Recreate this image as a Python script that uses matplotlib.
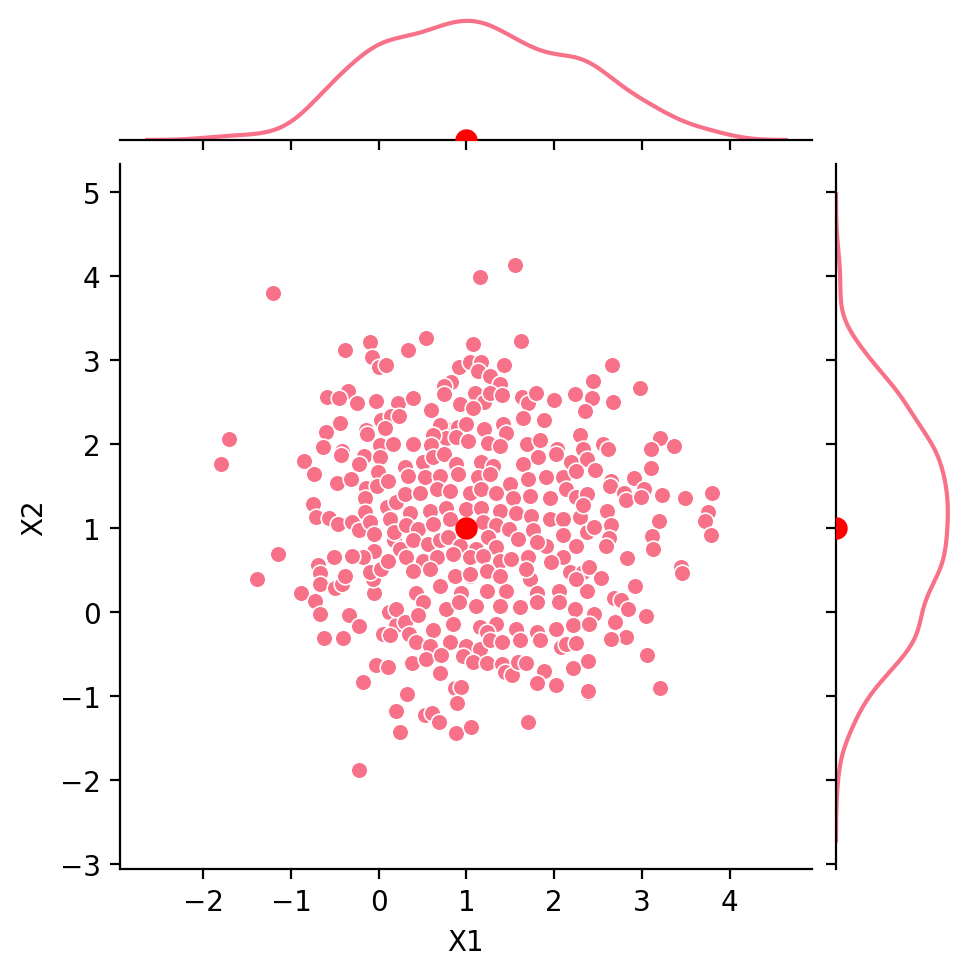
import matplotlib
matplotlib.use("Agg")
import matplotlib.pyplot as plt
import seaborn as sns
import numpy as np

# points (X1, X2)
x1 = [
    -1.205, -1.71, -0.38, -0.10, 0.33, -0.08, 0.0, 0.08, -0.585, -0.345, -0.45, -0.25, -0.03, 0.22, 0.39,
    -0.44, -0.60, 0.03, 0.14, 0.23, 0.07, -0.15, -0.13, -0.635, -0.42, 0.02, 0.39,
    1.55, 1.16, 0.54, 1.08, 1.62, 0.91, 1.04, 1.17, 1.13, 1.43, 1.27, 1.38, 0.82, 0.745, 0.75, 0.60,
    1.10, 1.20, 1.27, 1.41, 0.93, 1.08, 1.63, 1.70, 1.79, 2.0, 2.24, 2.44, 2.43, 2.35, 2.66, 2.67,
    1.65, 1.88, 1.42, 1.45, 1.20, 0.77, 0.90, 1.0, 0.70, 0.77, 0.62, 0.885, 0.60, 1.25, 1.69, 1.84,
    2.30, 2.03, 2.33, 2.56,
    2.98, 3.21, 3.37, 3.10, 2.61,
    0.16, 1.02, 1.38,
    -1.80, -0.85, -0.74, -0.425, -0.17, 0.01, -0.23, -0.01, -0.47, -0.32, -0.14, -0.015, 0.11, -0.16,
    0.09, -0.75, -0.72, -0.57, -0.46, -0.31, -0.22, -0.16, -0.10, -0.05, 0.125, 0.18, -0.05, -0.18,
    -0.30, -0.51, -1.15, -1.39, -0.69, -0.67, -0.665, -0.50, -0.42, -0.38, -0.89, -0.73, -0.67, -0.34,
    -0.22, -0.05, -0.07, -0.10, 0.03, 0.11, 0.12, 0.05, -0.62, -0.41, 0.20,
    0.20, 0.18, 0.24,
    0.30, 0.51, 0.62, 0.75, 0.885, 1.17, 1.30, 1.645, 1.815, 2.025, 2.195, 2.37,
    1.91, 2.10, 2.25,
    1.95, 2.14, 2.25, 2.37,
    1.95, 2.10, 2.29,
    1.91, 2.10, 2.37,
    2.10, 2.25,
    1.97, 2.18, 2.33,
    0.43, 0.695, 0.94, 1.04, 1.23, 1.455, 1.72, 1.80, 2.06, 2.37, 2.25,
    0.20, 0.505, 0.77, 0.92, 1.11, 1.38, 1.61, 1.80, 2.06, 2.235,
    0.30, 0.45, 0.62, 0.85, 1.15, 1.34, 1.57, 1.80, 2.025, 2.22, 0.35,
    # dense centre
    0.335, 0.525, 0.70, 0.905, 1.13, 1.265, 1.495, 1.70,
    0.30, 0.47, 0.66, 0.81, 1.04, 1.17, 1.34, 1.53, 1.72,
    0.355, 0.58, 0.77, 1.0, 1.17, 1.38, 1.57, 1.74,
    0.315, 0.45, 0.62, 0.81, 1.19, 1.34, 1.49, 1.76,
    0.39, 0.56, 0.70, 0.79, 0.925, 1.11, 1.25, 1.34, 1.59, 1.80,
    0.315, 0.505, 0.66, 0.85, 1.04, 1.19, 1.38, 1.51, 1.70,
    0.39, 0.58, 0.87, 1.04, 1.23, 1.38, 1.685,
    # right side
    2.47, 3.10, 2.65, 2.64, 2.91, 2.80, 2.82, 3.02, 2.99, 3.23, 3.49, 3.80, 3.76, 3.72, 3.79, 3.195,
    3.12, 3.13, 2.83, 2.60, 2.65, 2.45, 2.63, 2.59, 2.33, 3.45, 3.46, 2.40, 2.54, 2.92, 2.68, 2.765,
    2.84, 3.05, 2.46, 2.40, 2.69, 2.82, 2.65,
    3.06, 2.39, 3.21,
    # bottom
    0.125, -0.03, 0.11, -0.18, 0.20, 0.24, -0.225,
    0.43, 0.81, 1.0, 1.15, 1.23, 1.265, 1.40, 1.61, 1.835, 2.08, 2.14, 2.245, 0.58, 0.38, 0.54, 0.71,
    0.96, 1.07, 1.23, 1.40, 1.44, 1.52, 1.59, 1.68, 1.89, 1.80, 2.02, 2.21, 2.39, 2.39, 0.695, 0.32,
    0.87, 0.94, 0.89, 0.525, 0.61, 0.69, 0.885, 1.05, 1.70,
]
x2 = [
    3.79, 2.06, 3.12, 3.21, 3.12, 3.03, 2.92, 2.94, 2.56, 2.63, 2.55, 2.49, 2.51, 2.49, 2.55,
    2.25, 2.14, 2.28, 2.33, 2.33, 2.19, 2.16, 2.12, 1.96, 1.92, 1.99, 2.0,
    4.13, 3.98, 3.26, 3.19, 3.23, 2.92, 2.98, 2.98, 2.87, 2.94, 2.81, 2.71, 2.74, 2.69, 2.59, 2.40,
    2.61, 2.50, 2.60, 2.58, 2.48, 2.43, 2.56, 2.49, 2.60, 2.52, 2.59, 2.75, 2.54, 2.39, 2.94, 2.50,
    2.31, 2.28, 2.24, 2.13, 2.18, 2.18, 2.20, 2.24, 2.22, 2.07, 2.10, 2.08, 1.99, 2.01, 2.0, 2.05,
    2.11, 1.94, 1.94, 2.0,
    2.67, 2.07, 1.98, 1.94, 1.94,
    2.0, 2.04, 1.98,
    1.76, 1.80, 1.64, 1.87, 1.86, 1.84, 1.76, 1.66, 1.54, 1.58, 1.48, 1.50, 1.56, 1.35,
    1.25, 1.28, 1.13, 1.12, 1.05, 1.07, 0.97, 1.19, 1.07, 0.93, 1.11, 0.85, 0.72, 0.65,
    0.67, 0.65, 0.69, 0.39, 0.56, 0.46, 0.33, 0.29, 0.33, 0.43, 0.23, 0.135, -0.02, -0.04,
    -0.17, 0.23, 0.39, 0.47, 0.51, 0.61, 0.00, -0.26, -0.31, -0.31, -0.16,
    1.31, 0.95, 0.75,
    1.72, 1.78, 1.84, 1.88, 1.76, 1.78, 1.74, 1.76, 1.84, 1.88, 1.78, 1.82,
    1.60, 1.60, 1.68,
    1.35, 1.46, 1.37, 1.40,
    1.11, 1.11, 1.13,
    0.79, 0.91, 0.95,
    0.65, 0.79,
    0.59, 0.47, 0.47,
    0.23, 0.31, 0.23, 0.43, 0.25, 0.25, 0.39, 0.23, 0.25, 0.25, 0.39,
    0.035, 0.115, 0.035, 0.115, 0.075, 0.075, 0.055, 0.115, 0.115, 0.035,
    -0.12, -0.04, -0.22, -0.14, -0.18, -0.14, -0.20, -0.24, -0.20, -0.16, -0.26,
    # dense centre
    1.62, 1.60, 1.62, 1.64, 1.60, 1.64, 1.52, 1.58,
    1.40, 1.42, 1.46, 1.44, 1.42, 1.46, 1.42, 1.36, 1.38,
    1.18, 1.20, 1.24, 1.22, 1.24, 1.20, 1.18, 1.14,
    1.03, 0.99, 1.05, 1.10, 1.07, 1.03, 0.99, 0.97,
    0.85, 0.81, 0.85, 0.89, 0.79, 0.75, 0.89, 0.77, 0.87, 0.83,
    0.65, 0.61, 0.65, 0.69, 0.65, 0.67, 0.61, 0.63, 0.65,
    0.49, 0.51, 0.43, 0.45, 0.49, 0.43, 0.51,
    # right side
    1.69, 1.71, 1.56, 1.50, 1.59, 1.41, 1.33, 1.46, 1.37, 1.39, 1.35, 1.41, 1.19, 1.08, 0.92, 1.08,
    0.90, 0.75, 0.64, 1.20, 1.03, 1.01, 0.88, 0.78, 1.27, 0.53, 0.46, 0.53, 0.40, 0.31, 0.16, 0.14,
    0.04, -0.05, -0.02, -0.14, -0.12, -0.30, -0.32,
    -0.51, -0.96, -0.91,
    # bottom
    -0.28, -0.63, -0.66, -0.84, -1.18, -1.43, -1.88,
    -0.36, -0.36, -0.40, -0.44, -0.24, -0.34, -0.36, -0.34, -0.34, -0.42, -0.38, -0.37, -0.40, -0.61, -0.56, -0.51,
    -0.52, -0.60, -0.61, -0.62, -0.72, -0.75, -0.60, -0.61, -0.70, -0.85, -0.87, -0.67, -0.58, -0.94, -0.73, -0.98,
    -0.90, -0.89, -1.08, -1.23, -1.20, -1.31, -1.44, -1.37, -1.31,
]
highlight = (1.0, 1.0)

pink = "#f77189"
kde_bw = 0.28  # kernel width seen in the reference marginals

fig = plt.figure(figsize=(977 / 200, 979 / 200), dpi=200)
ax = fig.add_axes([0.1228, 0.1113, 0.7083, 0.7201])
ax_top = fig.add_axes([0.1228, 0.8560, 0.7083, 0.1440], sharex=ax)
ax_right = fig.add_axes([0.8557, 0.1113, 0.1413, 0.7201], sharey=ax)

sns.scatterplot(x=x1, y=x2, ax=ax, color=pink, s=36, edgecolor="white", linewidth=0.6)
ax.scatter(*highlight, color="red", s=50, zorder=5)

adj_x = kde_bw / (np.std(x1, ddof=1) * len(x1) ** -0.2)
adj_y = kde_bw / (np.std(x2, ddof=1) * len(x2) ** -0.2)
sns.kdeplot(x=x1, ax=ax_top, color=pink, linewidth=1.5, bw_adjust=adj_x)
sns.kdeplot(y=x2, ax=ax_right, color=pink, linewidth=1.5, bw_adjust=adj_y)
ax_top.scatter(highlight[0], 0, color="red", s=50, zorder=5)
ax_right.scatter(0, highlight[1], color="red", s=50, zorder=5)

ax.set_xlim(-2.95, 4.94)
ax.set_ylim(-3.06, 5.33)
ax.set_xticks([-2, -1, 0, 1, 2, 3, 4])
ax.set_yticks([-3, -2, -1, 0, 1, 2, 3, 4, 5])
ax.set_xlabel("X1")
ax.set_ylabel("X2")
for s in ["top", "right"]:
    ax.spines[s].set_visible(False)

peak_x = ax_top.get_lines()[0].get_ydata().max()
ax_top.set_ylim(0, peak_x / 0.845)
peak_y = ax_right.get_lines()[0].get_xdata().max()
ax_right.set_xlim(0, peak_y / 0.81)

for s in ["top", "right", "left"]:
    ax_top.spines[s].set_visible(False)
ax_top.yaxis.set_visible(False)
ax_top.tick_params(axis="x", labelbottom=False)
ax_top.set_xlabel("")

for s in ["top", "right", "bottom"]:
    ax_right.spines[s].set_visible(False)
ax_right.xaxis.set_visible(False)
ax_right.tick_params(axis="y", labelleft=False)
ax_right.set_ylabel("")

fig.savefig("out.png", dpi=200)
